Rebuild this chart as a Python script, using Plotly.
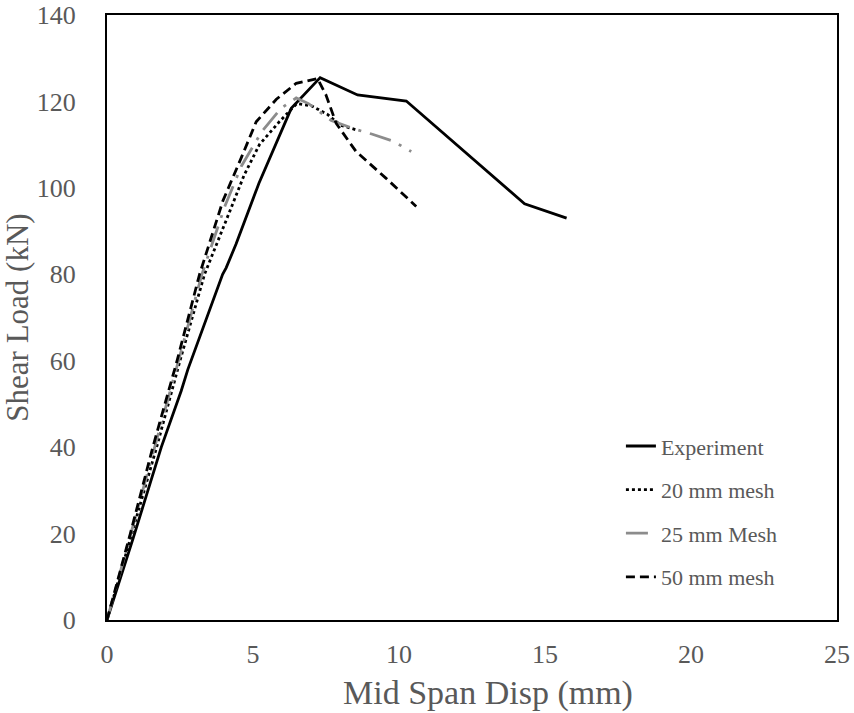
import plotly.graph_objects as go

exp_x = [0, 0.9, 1.86, 2.54, 2.77, 3.3, 3.96, 4.08, 4.42, 5.2, 6.31, 7.3, 8.58, 10.25, 14.3, 15.74]
exp_y = [0, 19, 40, 53, 58, 68, 80, 81.5, 87, 101, 118.4, 125.5, 121.5, 120.1, 96.3, 93]

m20_x = [0, 0.85, 1.7, 2.5, 3.34, 4.2, 4.7, 5.22, 5.9, 6.5, 7.0, 7.55, 8.0, 8.6]
m20_y = [0, 20, 40, 60, 80, 94.5, 103, 110, 115.3, 119.5, 119, 117, 114.5, 113.3]

m25_x = [0, 0.82, 1.62, 2.45, 3.25, 4.05, 4.6, 5.3, 5.96, 6.48, 6.9, 7.68, 8.53, 9.09, 9.8, 10.42]
m25_y = [0, 20, 40, 60, 80, 96, 105, 113, 118.4, 120.8, 119.5, 115.6, 113.5, 112.4, 110.8, 108.4]

m50_x = [0, 0.8, 1.57, 2.4, 3.17, 3.97, 4.6, 5.11, 5.8, 6.48, 7.21, 7.5, 7.85, 8.53, 9.56, 10.59]
m50_y = [0, 20, 40, 60, 80, 97, 107, 115.3, 120.5, 124.2, 125.3, 121.5, 114.9, 108.4, 102.2, 95.7]

FONT = "Liberation Serif, Times New Roman, serif"
TXT = "#595959"

fig = go.Figure()
fig.add_trace(go.Scatter(x=exp_x, y=exp_y, mode="lines", name="Experiment", legendgroup="a",
                         line=dict(color="black", width=2.8)))
fig.add_trace(go.Scatter(x=m20_x, y=m20_y, mode="lines", name="20 mm mesh", legendgroup="b",
                         line=dict(color="black", width=2.8, dash="dot")))
fig.add_trace(go.Scatter(x=m25_x, y=m25_y, mode="lines", name="25 mm Mesh", legendgroup="c",
                         line=dict(color="#8c8c8c", width=2.8, dash="22px,9px,3px,9px")))
fig.add_trace(go.Scatter(x=m50_x, y=m50_y, mode="lines", name="50 mm mesh", legendgroup="d",
                         line=dict(color="black", width=2.8, dash="9px,5px")))

fig.update_layout(
    width=854, height=713,
    margin=dict(l=107, r=17, t=15, b=93),
    paper_bgcolor="white", plot_bgcolor="white",
    font=dict(family=FONT, color=TXT, size=24),
    legend=dict(x=0.704, y=0.322, xanchor="left", yanchor="top",
                font=dict(family=FONT, color=TXT, size=22),
                tracegroupgap=12, bgcolor="rgba(0,0,0,0)"),
    xaxis=dict(range=[0, 25], dtick=5, showgrid=False, zeroline=False,
               showline=True, linecolor="black", linewidth=2, mirror=True,
               ticks="", tickfont=dict(size=26, color=TXT), ticklabelstandoff=10,
               ticklabeloverflow="allow", automargin=False),
    yaxis=dict(range=[0, 140], dtick=20, showgrid=False, zeroline=False,
               showline=True, linecolor="black", linewidth=2, mirror=True,
               ticks="", tickfont=dict(size=26, color=TXT), ticklabelstandoff=24,
               ticklabeloverflow="allow", automargin=False,
               title=dict(text="Shear Load (kN)", font=dict(size=31, color=TXT), standoff=4)),
    annotations=[dict(text="Mid Span Disp (mm)", xref="paper", yref="paper",
                      x=0.522, y=-0.121, xanchor="center", yanchor="middle",
                      showarrow=False, font=dict(size=34, color=TXT, family=FONT))],
)

fig.write_html("out.html")
